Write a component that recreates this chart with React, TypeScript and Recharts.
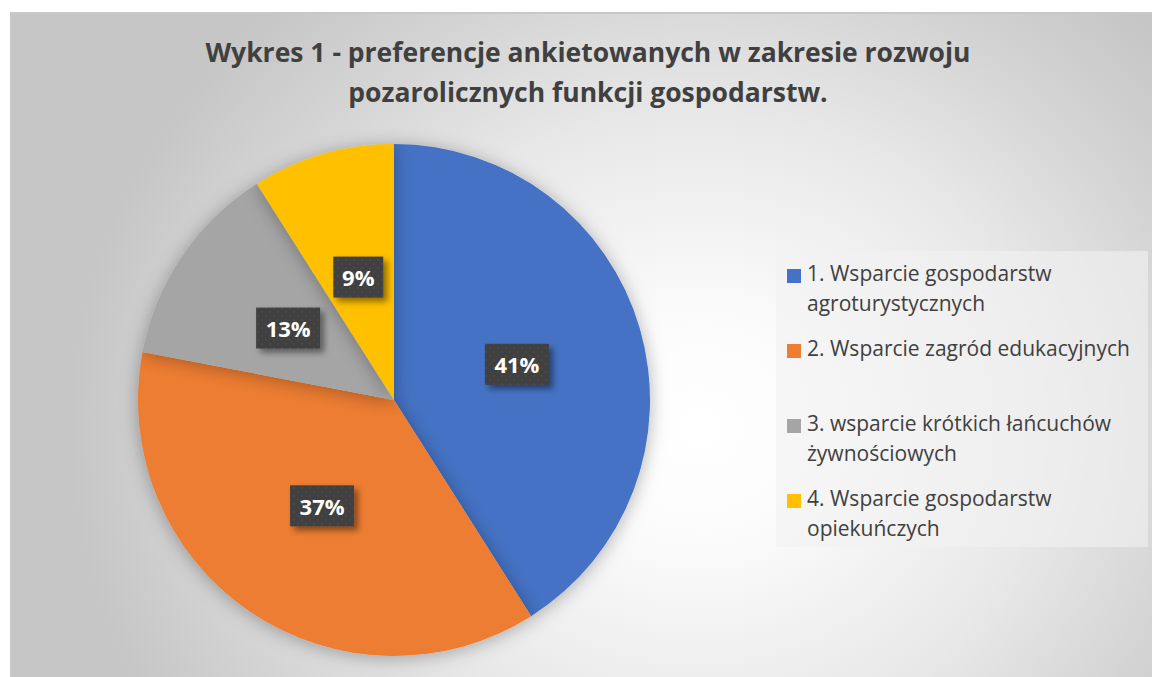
import { PieChart, Pie, Cell, Legend } from 'recharts'

const categories = [
  '1. Wsparcie gospodarstw\nagroturystycznych',
  '2. Wsparcie zagród edukacyjnych',
  '3. wsparcie krótkich łańcuchów\nżywnościowych',
  '4. Wsparcie gospodarstw\nopiekuńczych',
]
const shares = [41, 37, 13, 9]
const COLORS = ['#4472C4', '#ED7D31', '#A5A5A5', '#FFC000']

const data = categories.map((name, i) => ({ name, value: shares[i] }))

const RAD = Math.PI / 180
const FONT = '"Open Sans", sans-serif'

function renderLabel(props: any) {
  const { cx, cy, midAngle, outerRadius, value } = props
  const r = outerRadius * 0.5
  const x = cx + r * Math.cos(-midAngle * RAD)
  const y = cy + r * Math.sin(-midAngle * RAD)
  const text = `${value}%`
  const w = text.length === 2 ? 50 : 64
  const h = 41
  return (
    <g>
      <rect
        x={x - w / 2}
        y={y - h / 2}
        width={w}
        height={h}
        fill="url(#dots)"
        filter="url(#boxShadow)"
      />
      <text
        x={x}
        y={y}
        textAnchor="middle"
        dominantBaseline="central"
        fill="#ffffff"
        fontFamily={FONT}
        fontWeight={700}
        fontSize={22}
      >
        {text}
      </text>
    </g>
  )
}

function LegendBox() {
  return (
    <div
      style={{
        width: 372,
        height: 296,
        background: 'rgba(242,242,242,0.6)',
        boxSizing: 'border-box',
        paddingTop: 7,
        fontFamily: FONT,
        fontSize: 21,
        color: '#404040',
      }}
    >
      {categories.map((name, i) => (
        <div key={i} style={{ height: 75, display: 'flex', alignItems: 'flex-start' }}>
          <span
            style={{
              width: 14,
              height: 14,
              background: COLORS[i],
              marginLeft: 11,
              marginRight: 6,
              marginTop: 11,
              flexShrink: 0,
            }}
          />
          <span style={{ whiteSpace: 'pre-line', lineHeight: '30px' }}>{name}</span>
        </div>
      ))}
    </div>
  )
}

export default function App() {
  return (
    <div style={{ position: 'absolute', left: 0, top: 0, width: 1152, height: 677, background: '#fff', overflow: 'hidden' }}>
      <svg width={0} height={0} style={{ position: 'absolute' }}>
        <defs>
          <filter id="pieShadow" x="-20%" y="-20%" width="140%" height="140%">
            <feGaussianBlur in="SourceAlpha" stdDeviation="9" />
            <feOffset dx="0" dy="2" result="b" />
            <feFlood floodColor="#000" floodOpacity="0.3" />
            <feComposite in2="b" operator="in" />
            <feMerge>
              <feMergeNode />
              <feMergeNode in="SourceGraphic" />
            </feMerge>
          </filter>
          <filter id="boxShadow" x="-30%" y="-30%" width="170%" height="170%">
            <feGaussianBlur in="SourceAlpha" stdDeviation="3" />
            <feOffset dx="4" dy="4" result="b" />
            <feFlood floodColor="#000" floodOpacity="0.45" />
            <feComposite in2="b" operator="in" />
            <feMerge>
              <feMergeNode />
              <feMergeNode in="SourceGraphic" />
            </feMerge>
          </filter>
          <pattern id="dots" width="8" height="8" patternUnits="userSpaceOnUse">
            <rect width="8" height="8" fill="#404040" />
            <circle cx="2" cy="2" r="1" fill="#4c4c4c" />
            <circle cx="6" cy="6" r="1" fill="#4c4c4c" />
          </pattern>
        </defs>
      </svg>
      <div
        style={{
          position: 'absolute',
          left: 10,
          top: 12,
          width: 1145,
          height: 670,
          borderTop: '2px solid #c8c8c8',
          borderLeft: '2px solid #c8c8c8',
          boxSizing: 'border-box',
          background:
            'radial-gradient(ellipse 55% 85% at 60% 62%, #ffffff 0%, #fbfbfb 20%, #e8e8e8 55%, #d4d4d4 80%, #c6c6c6 100%)',
        }}
      >
        <div
          style={{
            position: 'absolute',
            left: 76,
            top: 18,
            width: 1000,
            textAlign: 'center',
            fontFamily: FONT,
            fontWeight: 700,
            fontSize: 26.5,
            lineHeight: '40px',
            color: '#404040',
          }}
        >
          Wykres 1 - preferencje ankietowanych w zakresie rozwoju
          <br />
          pozarolicznych funkcji gospodarstw.
        </div>
        <PieChart width={1141} height={666} style={{ position: 'absolute', left: 0, top: 0 }}>
          <Pie
            data={data}
            dataKey="value"
            nameKey="name"
            cx={377}
            cy={381}
            outerRadius={256}
            startAngle={90}
            endAngle={-270}
            stroke="none"
            label={renderLabel}
            labelLine={false}
            isAnimationActive={false}
            style={{ filter: 'url(#pieShadow)' }}
          >
            {data.map((d, i) => (
              <Cell key={d.name} fill={COLORS[i]} />
            ))}
          </Pie>
          <Legend
            content={() => <LegendBox />}
            wrapperStyle={{ position: 'absolute', left: 764, top: 237, width: 372 }}
          />
        </PieChart>
      </div>
    </div>
  )
}
